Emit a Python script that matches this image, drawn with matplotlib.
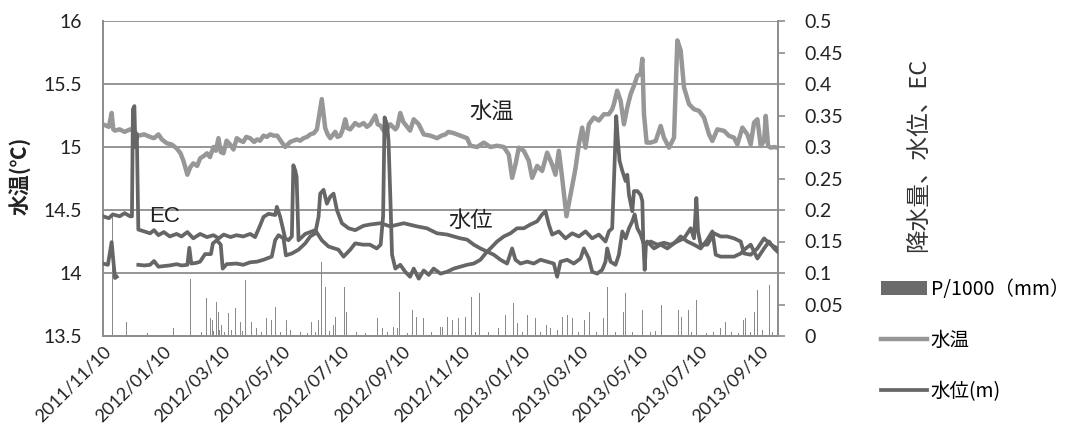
import matplotlib
matplotlib.use('Agg')
import matplotlib.pyplot as plt
import matplotlib.dates as mdates
from matplotlib.lines import Line2D
from matplotlib.patches import Patch
from matplotlib.ticker import MultipleLocator, FuncFormatter
import numpy as np
import pandas as pd

plt.rcParams['font.family'] = ['Lato', 'Noto Sans CJK JP', 'DejaVu Sans']

start = pd.Timestamp('2011-11-10')
end_day = 688

# 水温 (℃) : days after 2011/11/10
temp_day = [0, 3, 6, 8.8, 10.5, 12.2, 17, 22, 27.6, 31, 36, 42, 48, 52, 56.5, 60, 65, 70, 75,
            79, 82, 86, 89, 92, 96, 99, 103, 106, 109, 112.6, 115, 117.7, 120, 122.8, 126,
            129.6, 133, 136.4, 140, 143, 146, 150, 154, 157, 160, 163.6, 167, 170.4, 174,
            177.6, 182, 185.7, 190.8, 194, 197.6, 201, 204.4, 208, 211.2, 215, 218, 223,
            226.5, 229, 231.6, 236.7, 239, 241.8, 244, 246.9, 249, 252, 257, 261, 265.6,
            269, 272.4, 277.6, 280, 282.7, 287.8, 290, 292.9, 298, 300, 303, 306, 308, 313,
            316.7, 321.8, 326.9, 333.7, 340.5, 345, 349, 352, 357.5, 361, 364.3, 371.1,
            374.5, 381.3, 388.1, 394.9, 401.7, 408.5, 413.6, 417, 420.4, 423.8, 428.9, 434,
            437.4, 442.5, 447.6, 452.7, 457.8, 461.2, 464.6, 468, 472.4, 476.5, 481.6, 485,
            488.4, 491.8, 495.2, 500.3, 505.4, 510.5, 515.6, 519, 520.7, 524.1, 527.6, 531,
            534.4, 537.8, 541.2, 544.6, 548, 549.7, 551.4, 554.1, 558.2, 563.3, 568.4, 571.8,
            576.9, 582, 585.4, 588.8, 592.2, 597.3, 602.4, 607.5, 612.6, 617.7, 621.1, 626.2,
            633, 638.1, 643.2, 646.6, 651.7, 656.8, 660.2, 663.6, 667, 670.4, 673.8, 675.5,
            677.9, 680.6, 684, 687.4]
temp_val = [15.18, 15.17, 15.16, 15.27, 15.14, 15.13, 15.14, 15.12, 15.14, 15.13, 15.09,
            15.10, 15.08, 15.07, 15.10, 15.06, 15.03, 15.02, 14.99, 14.95, 14.89, 14.78,
            14.84, 14.87, 14.85, 14.91, 14.93, 14.95, 14.92, 15.00, 14.97, 15.07, 14.96,
            14.95, 15.05, 15.02, 14.98, 15.07, 15.05, 15.04, 15.08, 15.07, 15.04, 15.06,
            15.05, 15.09, 15.08, 15.10, 15.09, 15.09, 15.04, 15.00, 15.04, 15.05, 15.06,
            15.05, 15.07, 15.08, 15.10, 15.11, 15.14, 15.38, 15.15, 15.10, 15.07, 15.12,
            15.08, 15.09, 15.13, 15.22, 15.15, 15.14, 15.19, 15.17, 15.19, 15.16, 15.18,
            15.25, 15.18, 15.17, 15.11, 15.15, 15.18, 15.14, 15.16, 15.27, 15.20, 15.18,
            15.13, 15.22, 15.18, 15.10, 15.09, 15.07, 15.09, 15.10, 15.12, 15.11, 15.10,
            15.09, 15.07, 15.01, 15.00, 15.035, 15.00, 15.01, 15.00, 14.94, 14.755, 14.86,
            14.995, 14.97, 14.89, 14.755, 14.85, 14.81, 14.955, 14.86, 14.78, 14.97, 14.755,
            14.45, 14.62, 14.83, 15.02, 15.154, 14.995, 15.18, 15.234, 15.21, 15.26, 15.26,
            15.30, 15.34, 15.447, 15.367, 15.18, 15.314, 15.42, 15.487, 15.566, 15.58, 15.70,
            15.26, 15.035, 15.035, 15.048, 15.167, 15.074, 14.995, 15.074, 15.846, 15.766,
            15.473, 15.34, 15.30, 15.287, 15.234, 15.10, 15.048, 15.14, 15.128, 15.088,
            15.074, 15.02, 15.154, 15.10, 15.02, 15.194, 15.22, 15.008, 15.048, 15.247,
            15.008, 14.995, 15.00, 14.995]

# EC
ec_day = [0, 6, 10, 17, 22, 27.6, 29.5, 30.5, 32, 33, 34.5, 36, 42, 48, 52, 56.5, 62, 68,
          75, 80, 86, 92, 99, 106, 112.6, 118, 123, 130, 136, 143, 150, 155, 160, 163.6,
          168.7, 175.5, 177.2, 180.6, 185.7, 189, 192.5, 194, 195.9, 197.3, 199.3, 206.1,
          213, 216.3, 223, 229.9, 240, 245.2, 252, 257, 265, 272, 279, 283, 285.5, 287,
          289.5, 291, 293, 294.6, 298, 303, 308, 313, 316.7, 321.8, 326.9, 332, 337, 344,
          350.7, 357.5, 364.3, 371, 377.9, 384.7, 391.5, 394.9, 401.7, 408.5, 415.3, 422,
          428.9, 435.7, 442.5, 447.6, 451, 454.4, 457.8, 464.6, 471.4, 478.2, 485, 491.8,
          498.6, 505.4, 512.2, 515.6, 519, 521.4, 523.1, 524.8, 526.5, 529.3, 532.7, 534.4,
          536.1, 539.5, 541.2, 544.6, 548, 549.7, 550.7, 552.1, 553.4, 558.2, 565, 571.8,
          578.6, 585.4, 592.2, 599, 602.4, 604.8, 606.5, 609.2, 616, 622.8, 629.6, 636.4,
          643.2, 650, 653.4, 660.2, 667, 673.8, 680.6, 687.4]
ec_val = [0.19, 0.187, 0.193, 0.19, 0.195, 0.19, 0.19, 0.36, 0.365, 0.30, 0.32, 0.169, 0.166,
          0.163, 0.168, 0.16, 0.165, 0.158, 0.162, 0.158, 0.165, 0.155, 0.162, 0.157, 0.16,
          0.155, 0.161, 0.157, 0.16, 0.158, 0.162, 0.157, 0.175, 0.189, 0.194, 0.192, 0.205,
          0.189, 0.155, 0.152, 0.158, 0.271, 0.263, 0.253, 0.152, 0.162, 0.166, 0.168,
          0.152, 0.142, 0.137, 0.126, 0.137, 0.147, 0.145, 0.145, 0.139, 0.145, 0.19, 0.347,
          0.336, 0.31, 0.214, 0.129, 0.107, 0.113, 0.102, 0.094, 0.107, 0.091, 0.104, 0.097,
          0.107, 0.099, 0.102, 0.107, 0.11, 0.113, 0.115, 0.121, 0.134, 0.139, 0.15, 0.158,
          0.163, 0.171, 0.171, 0.177, 0.182, 0.193, 0.198, 0.177, 0.161, 0.166, 0.155,
          0.163, 0.158, 0.166, 0.155, 0.161, 0.15, 0.166, 0.171, 0.272, 0.349, 0.31, 0.278,
          0.262, 0.246, 0.256, 0.224, 0.198, 0.23, 0.23, 0.224, 0.214, 0.15, 0.105, 0.145,
          0.15, 0.145, 0.148, 0.145, 0.15, 0.155, 0.171, 0.155, 0.219, 0.166, 0.145, 0.145,
          0.163, 0.158, 0.158, 0.155, 0.15, 0.131, 0.129, 0.139, 0.155, 0.145, 0.139]

# 水位 (m)
wl_day = [0, 5, 8.8, 10.5, 12.2, 14, 20, 36, 42, 48, 52, 56.5, 62, 68, 75, 80, 86, 88, 90,
          95, 99, 104, 110, 112, 116, 120, 122, 126, 136, 143, 150, 157, 163.6, 172, 175.5,
          178.9, 184, 186.4, 192.5, 199.3, 206.1, 211.2, 216.3, 219.7, 221.4, 224.8, 228.2,
          231.6, 235, 238.4, 243.5, 250.3, 257, 265.6, 272.4, 282.7, 292.9, 306.5, 320, 330,
          340.5, 350.7, 357.5, 364.3, 371.1, 377.9, 384.7, 391.5, 398.3, 405.1, 411.9, 417,
          420.4, 425.5, 432.3, 439.1, 445.9, 452.7, 459.5, 462.9, 466.3, 473.1, 479.9, 486.7,
          490.1, 495.2, 498.6, 503.7, 508.8, 512.2, 513.9, 517.3, 522.4, 525.8, 529.3, 532.7,
          536.1, 539.5, 541.9, 544.6, 548, 551.4, 554.8, 561.6, 568.4, 575.2, 582, 588.8,
          595.6, 602.4, 609.2, 616, 621.1, 624.5, 629.6, 636.4, 643.2, 650, 655.1, 660.2,
          667, 673.8, 678.9, 684, 687.4]
wl_val = [0.115, 0.113, 0.149, 0.12, 0.092, 0.094, np.nan, 0.113, 0.112, 0.113, 0.119, 0.11,
          0.111, 0.112, 0.114, 0.112, 0.113, 0.14, 0.115, 0.116, 0.118, 0.13, 0.13, 0.147,
          0.152, 0.145, 0.107, 0.114, 0.115, 0.113, 0.117, 0.118, 0.121, 0.126, 0.152, 0.16,
          0.155, 0.128, 0.131, 0.137, 0.147, 0.158, 0.163, 0.189, 0.226, 0.232, 0.21, 0.221,
          0.226, 0.2, 0.179, 0.171, 0.168, 0.175, 0.177, 0.179, 0.174, 0.179, 0.174, 0.171,
          0.163, 0.161, 0.158, 0.155, 0.153, 0.145, 0.139, 0.134, 0.129, 0.121, 0.115, 0.139,
          0.121, 0.115, 0.118, 0.115, 0.121, 0.118, 0.115, 0.094, 0.118, 0.121, 0.115, 0.123,
          0.139, 0.123, 0.102, 0.099, 0.105, 0.118, 0.139, 0.118, 0.113, 0.129, 0.166, 0.155,
          0.171, 0.182, 0.193, 0.171, 0.161, 0.145, 0.15, 0.139, 0.145, 0.139, 0.147, 0.158,
          0.15, 0.145, 0.139, 0.153, 0.166, 0.129, 0.126, 0.126, 0.126, 0.131, 0.139, 0.145,
          0.123, 0.139, 0.15, 0.139, 0.134]

# P/1000 (mm)
rain_day = [1, 9.5, 24, 45, 71.8, 89.5, 100, 105.8, 109.2, 111.9, 113, 116, 117.7, 119,
            121.1, 124, 127.9, 131, 134.7, 139.8, 142, 145.5, 151.7, 156.8, 162, 167, 172,
            175.5, 181, 187.4, 190.8, 201, 208, 212.9, 217, 219.7, 223, 226.5, 231, 235,
            237.4, 245.9, 248.6, 258.8, 268, 279.3, 284.4, 290, 296.3, 299.7, 302.4, 310,
            315, 319.4, 326.9, 335, 343.9, 345.6, 350.7, 355.8, 362.6, 369.4, 375.2, 380,
            384, 393.2, 403.4, 410.2, 418, 422.8, 428, 433, 440.8, 446, 452, 456.1, 462.9,
            468, 473.1, 478.2, 485, 490.8, 495.9, 503, 510.5, 513.9, 522, 530.3, 532.7, 540,
            549.7, 558.2, 563, 569.1, 576.9, 582, 586.1, 589.8, 596.3, 600, 605.1, 615, 622,
            629.6, 634.7, 641, 648, 652.7, 655.1, 660, 664.3, 667, 672, 678.9, 682]
rain_val = [0.033, 0.19, 0.022, 0.004, 0.012, 0.091, 0.006, 0.06, 0.028, 0.025, 0.008, 0.054,
            0.038, 0.01, 0.017, 0.007, 0.036, 0.009, 0.044, 0.022, 0.008, 0.089, 0.022, 0.012,
            0.006, 0.028, 0.025, 0.046, 0.007, 0.025, 0.009, 0.006, 0.005, 0.022, 0.007, 0.025,
            0.118, 0.078, 0.008, 0.017, 0.03, 0.078, 0.038, 0.006, 0.005, 0.028, 0.012, 0.006,
            0.014, 0.012, 0.07, 0.005, 0.041, 0.03, 0.028, 0.006, 0.014, 0.014, 0.03, 0.025,
            0.028, 0.03, 0.062, 0.007, 0.068, 0.006, 0.012, 0.033, 0.052, 0.02, 0.006, 0.034,
            0.028, 0.007, 0.017, 0.012, 0.009, 0.03, 0.033, 0.028, 0.006, 0.025, 0.038, 0.007,
            0.028, 0.078, 0.006, 0.038, 0.068, 0.006, 0.041, 0.006, 0.008, 0.049, 0.006, 0.009,
            0.041, 0.03, 0.041, 0.006, 0.057, 0.005, 0.007, 0.012, 0.022, 0.006, 0.005, 0.025,
            0.028, 0.006, 0.038, 0.073, 0.009, 0.081, 0.006]


def to_dates(days):
    return start + pd.to_timedelta(days, unit='D')


c_temp = '#979797'
c_dark = '#666666'
c_grid = '#8e8e8e'

fig = plt.figure(figsize=(10.76, 4.43), dpi=100)
ax = fig.add_axes([103 / 1076, 1 - 336 / 443, 675 / 1076, 315 / 443])
ax2 = ax.twinx()

# 左軸: 水温
ax.plot(to_dates(temp_day), temp_val, color=c_temp, lw=3.2, solid_joinstyle='round', zorder=3)
ax.set_ylim(13.5, 16)
ax.yaxis.set_major_locator(MultipleLocator(0.5))
ax.yaxis.set_major_formatter(FuncFormatter(lambda v, p: f'{v:g}'))
ax.yaxis.grid(True, color=c_grid, lw=1.3)
ax.set_axisbelow(True)

# 右軸: 降水量・EC・水位
ax2.bar(to_dates(rain_day), rain_val, width=1.0, color='#8a8a8a', lw=0, zorder=1)
ax2.plot(to_dates(ec_day), ec_val, color=c_dark, lw=2.7, solid_joinstyle='round', zorder=3)
ax2.plot(to_dates(wl_day), wl_val, color=c_dark, lw=2.7, solid_joinstyle='round', zorder=3)
ax2.set_ylim(0, 0.5)
ax2.yaxis.set_major_locator(MultipleLocator(0.05))
ax2.yaxis.set_major_formatter(FuncFormatter(lambda v, p: f'{v:g}'))

ax.set_xlim(start, start + pd.Timedelta(days=end_day))
ax.xaxis.set_major_locator(mdates.MonthLocator(bymonth=[1, 3, 5, 7, 9, 11], bymonthday=10))
ax.xaxis.set_major_formatter(mdates.DateFormatter('%Y/%m/%d'))

for a in (ax, ax2):
    a.spines['top'].set_visible(False)
    for s in ('left', 'right', 'bottom'):
        a.spines[s].set_color(c_grid)
        a.spines[s].set_linewidth(1.3)

ax.tick_params(axis='y', length=0, pad=15, labelsize=14, labelcolor='#222222')
ax.tick_params(axis='x', length=0, pad=5, labelsize=13, labelcolor='#222222')
ax2.tick_params(axis='y', direction='out', length=5, width=1.2, color=c_grid, pad=14,
                labelsize=14, labelcolor='#222222')
for lbl in ax.get_xticklabels():
    lbl.set_rotation(45)
    lbl.set_ha('right')
    lbl.set_rotation_mode('anchor')

# 系列名
ax.text(to_dates([396])[0], 15.286, '水温', fontsize=16, ha='center', va='center',
        family=['Noto Sans CJK JP'], color='#222222')
ax2.text(to_dates([374.5])[0], 0.184, '水位', fontsize=16, ha='center', va='center',
         family=['Noto Sans CJK JP'], color='#222222')
ax2.text(to_dates([63])[0], 0.189, 'EC', fontsize=16, ha='center', va='center',
         family=['Liberation Sans'], color='#222222')

# 軸ラベル
fig.text(20 / 1076, 1 - 176 / 443, '水温(℃)', rotation=90, ha='center', va='center',
         fontsize=15, fontweight='bold', family=['Noto Sans CJK JP'], color='#222222')
fig.text(919 / 1076, 1 - 155 / 443, '降水量、水位、EC', rotation=90, ha='center', va='center',
         fontsize=17, family=['Noto Sans CJK JP'], color='#333333')

# 凡例
handles = [Patch(facecolor='#6b6b6b', edgecolor='none'),
           Line2D([], [], color=c_temp, lw=3.2),
           Line2D([], [], color=c_dark, lw=2.7)]
labels = ['P/1000（mm）', '水温', '水位(m)']
fig.legend(handles, labels, loc='upper left', bbox_to_anchor=(881 / 1076, 1 - 279 / 443),
           frameon=False, borderpad=0, borderaxespad=0, handlelength=2.35, handleheight=0.75,
           handletextpad=0.2, labelspacing=1.55,
           prop={'family': ['Noto Sans CJK JP'], 'size': 14})

fig.savefig('out.png', dpi=100)
